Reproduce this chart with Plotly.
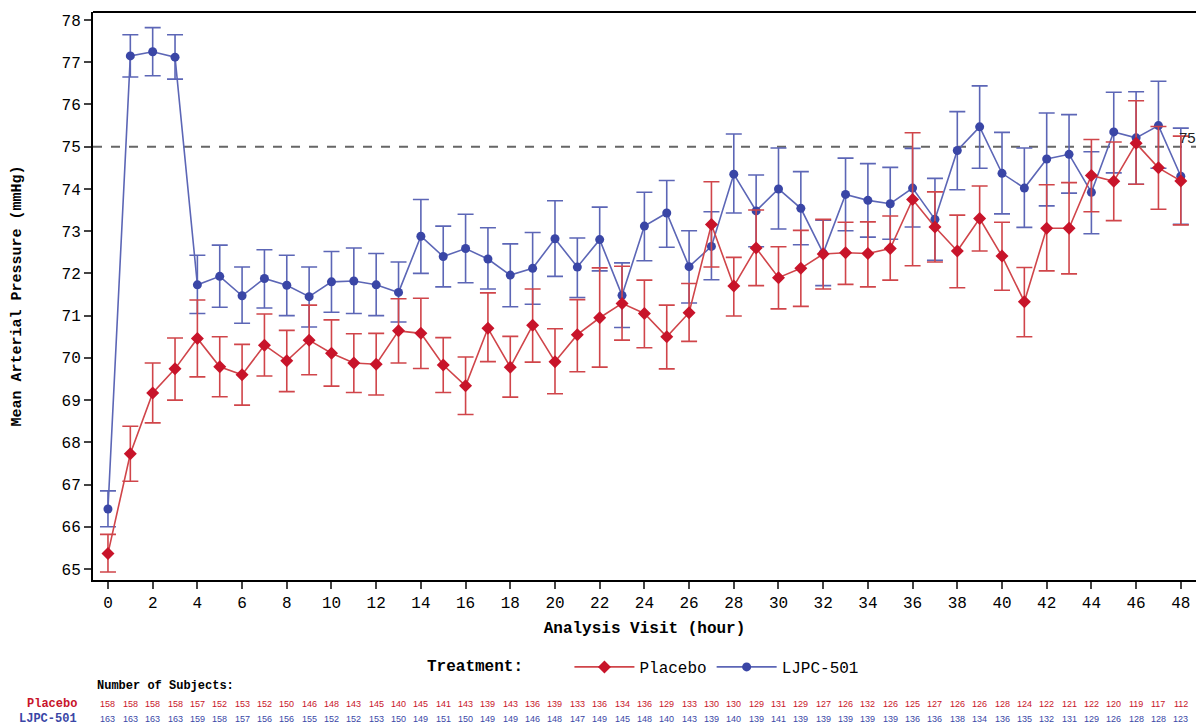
import plotly.graph_objects as go

hours = list(range(49))

placebo_mean = [65.37, 67.73, 69.17, 69.74, 70.46, 69.79, 69.60, 70.30, 69.93, 70.42,
                70.11, 69.88, 69.85, 70.64, 70.58, 69.83, 69.34, 70.70, 69.78, 70.77,
                69.91, 70.55, 70.95, 71.29, 71.05, 70.50, 71.07, 73.16, 71.70, 72.60,
                71.90, 72.12, 72.46, 72.49, 72.47, 72.59, 73.75, 73.10, 72.53, 73.30,
                72.41, 71.33, 73.07, 73.07, 74.32, 74.18, 75.08, 74.50, 74.19]
placebo_lower = [64.93, 67.08, 68.46, 69.00, 69.55, 69.08, 68.88, 69.57, 69.20, 69.60,
                 69.33, 69.18, 69.12, 69.88, 69.75, 69.18, 68.66, 69.91, 69.07, 69.90,
                 69.15, 69.67, 69.78, 70.42, 70.24, 69.74, 70.39, 72.15, 70.99, 71.71,
                 71.16, 71.22, 71.63, 71.74, 71.68, 71.84, 72.18, 72.27, 71.66, 72.53,
                 71.60, 70.50, 72.06, 71.99, 73.46, 73.25, 74.11, 73.52, 73.15]
placebo_upper = [65.82, 68.38, 69.88, 70.47, 71.37, 70.50, 70.32, 71.04, 70.65, 71.25,
                 70.90, 70.57, 70.58, 71.40, 71.41, 70.48, 70.02, 71.54, 70.51, 71.63,
                 70.69, 71.38, 72.13, 72.17, 71.84, 71.25, 71.76, 74.17, 72.38, 73.50,
                 72.63, 73.02, 73.28, 73.21, 73.22, 73.36, 75.33, 73.93, 73.38, 74.07,
                 73.21, 72.14, 74.10, 74.15, 75.17, 75.11, 76.09, 75.48, 75.25]

ljpc_mean = [66.42, 77.15, 77.25, 77.12, 71.73, 71.93, 71.47, 71.88, 71.72, 71.45,
             71.80, 71.82, 71.73, 71.55, 72.88, 72.40, 72.59, 72.34, 71.96, 72.12,
             72.82, 72.15, 72.80, 71.48, 73.12, 73.43, 72.16, 72.64, 74.35, 73.48,
             74.00, 73.54, 72.48, 73.87, 73.73, 73.65, 74.02, 73.28, 74.91, 75.47,
             74.37, 74.02, 74.71, 74.82, 73.92, 75.35, 75.21, 75.50, 74.30]
ljpc_lower = [66.00, 76.65, 76.68, 76.60, 71.05, 71.20, 70.82, 71.18, 71.00, 70.73,
              71.08, 71.05, 71.00, 70.85, 72.00, 71.68, 71.78, 71.63, 71.21, 71.27,
              71.93, 71.43, 72.06, 70.72, 72.30, 72.62, 71.30, 71.85, 73.43, 72.63,
              73.05, 72.68, 71.71, 73.01, 72.86, 72.81, 73.10, 72.31, 73.98, 74.49,
              73.41, 73.09, 73.60, 73.90, 72.94, 74.38, 74.11, 74.49, 73.16]
ljpc_upper = [66.85, 77.65, 77.82, 77.65, 72.43, 72.67, 72.15, 72.56, 72.43, 72.15,
              72.52, 72.60, 72.47, 72.27, 73.75, 73.12, 73.40, 73.08, 72.70, 72.97,
              73.72, 72.84, 73.57, 72.25, 73.92, 74.20, 73.01, 73.46, 75.30, 74.33,
              74.97, 74.41, 73.26, 74.73, 74.60, 74.51, 74.96, 74.25, 75.83, 76.44,
              75.34, 74.97, 75.80, 75.76, 74.88, 76.29, 76.30, 76.55, 75.44]

placebo_n = [158, 158, 158, 158, 157, 152, 153, 152, 150, 146, 148, 143, 145, 140, 145,
             141, 143, 139, 143, 136, 139, 133, 136, 134, 136, 129, 133, 130, 130, 129,
             131, 129, 127, 126, 132, 126, 125, 127, 126, 126, 128, 124, 122, 121, 122,
             120, 119, 117, 112]
ljpc_n = [163, 163, 163, 163, 159, 158, 157, 156, 156, 155, 152, 152, 153, 150, 149,
          151, 150, 149, 149, 146, 148, 147, 149, 145, 148, 140, 143, 139, 140, 139,
          141, 139, 139, 139, 139, 139, 136, 136, 138, 134, 136, 135, 132, 131, 129,
          126, 128, 128, 123]

reference_value = 75
x_ticks = list(range(0, 49, 2))
y_ticks = list(range(65, 79))

RED = "#C8142A"
RED_LINE = "#D0454A"
BLUE = "#3A46A6"
BLUE_LINE = "#5C66B6"
MONO = "Liberation Mono, Courier New, monospace"
SANS = "Liberation Sans, Arial, sans-serif"

W, H = 1196, 727
L, R, T, B = 93, 0, 12, 147
plot_h = H - T - B
plot_w = W - L - R


def py(pix):
    return (H - B - pix) / plot_h


def px(pix):
    return (pix - L) / plot_w


fig = go.Figure()

fig.add_trace(go.Scatter(
    x=hours, y=ljpc_mean, mode="lines+markers", name="LJPC-501",
    line=dict(color=BLUE_LINE, width=1.6),
    marker=dict(symbol="circle", size=9, color=BLUE),
    error_y=dict(type="data", symmetric=False,
                 array=[u - m for u, m in zip(ljpc_upper, ljpc_mean)],
                 arrayminus=[m - l for m, l in zip(ljpc_mean, ljpc_lower)],
                 color=BLUE_LINE, thickness=1.6, width=8),
))
fig.add_trace(go.Scatter(
    x=hours, y=placebo_mean, mode="lines+markers", name="Placebo",
    line=dict(color=RED_LINE, width=1.6),
    marker=dict(symbol="diamond", size=10, color=RED),
    error_y=dict(type="data", symmetric=False,
                 array=[u - m for u, m in zip(placebo_upper, placebo_mean)],
                 arrayminus=[m - l for m, l in zip(placebo_mean, placebo_lower)],
                 color=RED_LINE, thickness=1.6, width=8),
))

# reference line
fig.add_shape(type="line", xref="paper", x0=0, x1=1, yref="y",
              y0=reference_value, y1=reference_value,
              line=dict(color="#666666", width=2, dash="dash"), layer="below")
fig.add_annotation(x=1, y=reference_value, xref="paper", yref="y",
                   text=str(reference_value), showarrow=False,
                   xanchor="right", yanchor="bottom", yshift=-1, xshift=2,
                   font=dict(family=SANS, size=15, color="#222222"))

# top border
fig.add_shape(type="line", xref="paper", yref="paper", x0=0, x1=1, y0=1, y1=1,
              line=dict(color="black", width=2))

# Number of subjects table
fig.add_annotation(x=px(95), y=py(686), xref="paper", yref="paper",
                   text="<b>Number of Subjects:</b>",
                   showarrow=False, xanchor="left", yanchor="middle",
                   font=dict(family=MONO, size=12, color="black"))
fig.add_annotation(x=px(79), y=py(704), xref="paper", yref="paper", text="<b>Placebo</b>",
                   showarrow=False, xanchor="right", yanchor="middle",
                   font=dict(family=MONO, size=12, color=RED))
fig.add_annotation(x=px(79), y=py(719), xref="paper", yref="paper", text="<b>LJPC-501</b>",
                   showarrow=False, xanchor="right", yanchor="middle",
                   font=dict(family=MONO, size=12, color=BLUE))

for h, n in zip(hours, placebo_n):
    fig.add_annotation(x=h, y=py(704), xref="x", yref="paper", text=str(n),
                       showarrow=False, xanchor="center", yanchor="middle",
                       font=dict(family=SANS, size=9, color=RED))
for h, n in zip(hours, ljpc_n):
    fig.add_annotation(x=h, y=py(719), xref="x", yref="paper", text=str(n),
                       showarrow=False, xanchor="center", yanchor="middle",
                       font=dict(family=SANS, size=9, color=BLUE))

fig.update_layout(
    width=W, height=H,
    margin=dict(l=L, r=R, t=T, b=B, autoexpand=False),
    paper_bgcolor="white", plot_bgcolor="white",
    font=dict(family=MONO, color="black"),
    legend=dict(orientation="h", x=0.5, xanchor="center",
                yref="container", y=1 - 667 / H, yanchor="middle",
                title=dict(text="<b>Treatment:</b>    ", font=dict(family=MONO, size=16)),
                font=dict(family=MONO, size=16, color="black"),
                traceorder="reversed", itemwidth=60, bgcolor="rgba(0,0,0,0)"),
    xaxis=dict(range=[-0.67, 48.68], tickvals=x_ticks, ticks="outside", ticklen=7,
               tickwidth=1.5, showgrid=False, zeroline=False, showline=True,
               linecolor="black", linewidth=2, automargin=False,
               tickfont=dict(family=MONO, size=16, color="black"),
               title=dict(text="<b>Analysis Visit (hour)</b>", standoff=10,
                          font=dict(family=MONO, size=16))),
    yaxis=dict(range=[64.74, 78.19], tickvals=y_ticks, ticks="outside", ticklen=7,
               tickwidth=1.5, showgrid=False, zeroline=False, showline=True,
               linecolor="black", linewidth=2, automargin=False,
               tickfont=dict(family=MONO, size=16, color="black"),
               title=dict(text="<b>Mean Arterial Pressure (mmHg)</b>", standoff=36,
                          font=dict(family=MONO, size=15))),
    showlegend=True,
)
fig.update_xaxes(tickprefix="<b>", ticksuffix="</b>")
fig.update_yaxes(tickprefix="<b>", ticksuffix="</b>")

fig.write_html("out.html", config={"displayModeBar": False},
               post_script="document.body.style.margin='0';document.body.style.overflow='hidden';")
